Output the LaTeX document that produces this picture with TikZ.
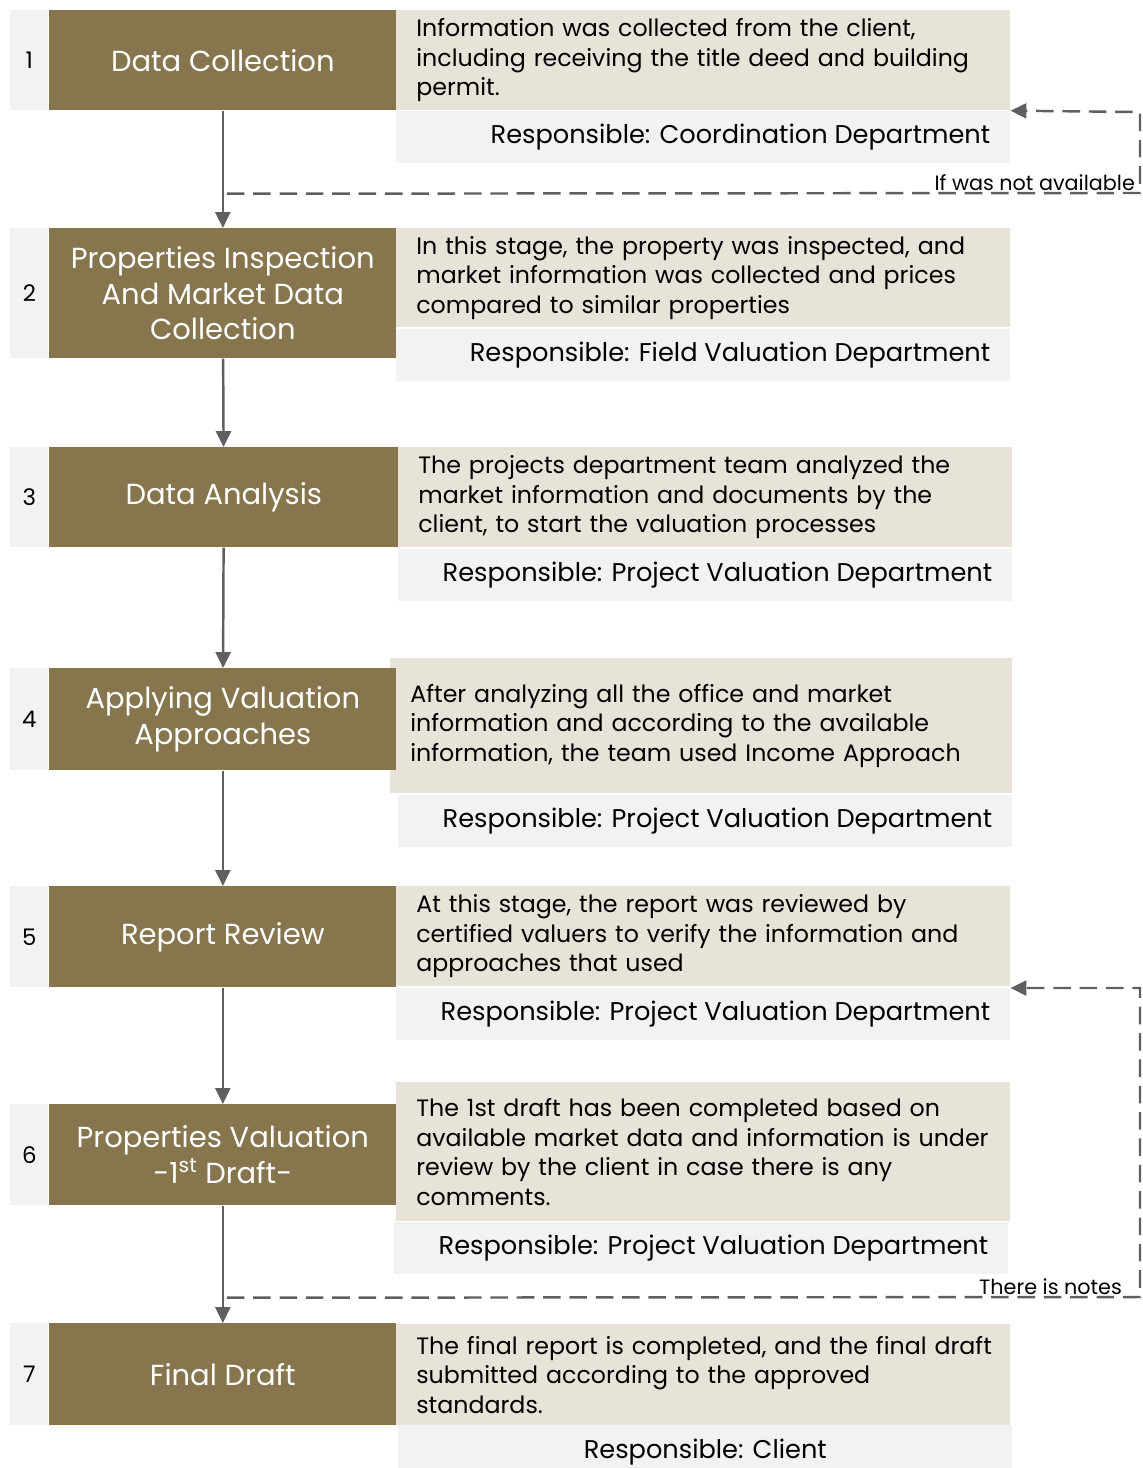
\documentclass[tikz,border=0pt]{standalone}
\usepackage{fontspec}
\setmainfont{Poppins}
\usetikzlibrary{arrows.meta, positioning, calc}
\definecolor{stagebrown}{HTML}{86754D}
\definecolor{descbeige}{HTML}{E7E3D9}
\definecolor{cellgray}{HTML}{F2F2F2}
\definecolor{linegray}{HTML}{5F5F5F}
\tikzset{
  numcell/.style   = {rectangle, fill=cellgray, anchor=north west, inner sep=0pt,
                      minimum width=0.76cm, font=\fontsize{13}{16}\selectfont},
  stagebox/.style  = {rectangle, fill=stagebrown, anchor=north west, inner sep=0pt,
                      minimum width=6.94cm, align=center, text=white,
                      font=\fontsize{16.5}{20.3}\selectfont},
  descbox/.style   = {rectangle, fill=descbeige, anchor=north west, inner xsep=0.4cm,
                      inner ysep=0pt, text width=11.48cm, align=left,
                      font=\fontsize{13.5}{16.8}\selectfont},
  respbox/.style   = {rectangle, fill=cellgray, anchor=north west, inner sep=0pt,
                      minimum width=12.28cm, minimum height=1.04cm},
  resptext/.style  = {anchor=east, inner sep=0pt, font=\fontsize{14.6}{17}\selectfont},
  flow/.style      = {draw=linegray, line width=1.4pt, -{Triangle[length=9pt,width=8.5pt]}},
  loopline/.style  = {draw=linegray, line width=1.4pt, dash pattern=on 10pt off 5pt,
                      -{Triangle[length=9pt,width=8.5pt]}},
  looplabel/.style = {anchor=south east, inner sep=1pt, font=\fontsize{11.8}{13}\selectfont}
}
\begin{document}
\begin{tikzpicture}[x=0.02cm, y=-0.02cm]
\useasboundingbox (0,0) rectangle (1143,1468);

% Step 1
\node[numcell, minimum height=2cm] at (10,10) (n1) {1};
\node[stagebox, minimum height=2cm] at (49,10) (s1) {Data Collection};
\node[descbox, minimum height=2cm] at (396,10) (d1) {Information was collected from the client,\\including receiving the title deed and building\\permit.};
\node[respbox] at (396,111) (r1) {};
\node[resptext] at ($(r1.east)+(-20,0)$) (t1) {Responsible: Coordination Department};

% Step 2
\node[numcell, minimum height=2.6cm] at (10,228) (n2) {2};
\node[stagebox, minimum height=2.6cm] at (49,228) (s2) {Properties Inspection\\And Market Data\\Collection};
\node[descbox, minimum height=1.98cm] at (396,228) (d2) {In this stage, the property was inspected, and\\market information was collected and prices\\compared to similar properties};
\node[respbox] at (396,329) (r2) {};
\node[resptext] at ($(r2.east)+(-20,0)$) (t2) {Responsible: Field Valuation Department};

% Step 3
\node[numcell, minimum height=2cm] at (10,447) (n3) {3};
\node[stagebox, minimum height=2cm, minimum width=6.98cm] at (49,447) (s3) {Data Analysis};
\node[descbox, minimum height=2cm] at (398,447) (d3) {The projects department team analyzed the\\market information and documents by the\\client, to start the valuation processes};
\node[respbox] at (398,549) (r3) {};
\node[resptext] at ($(r3.east)+(-20,0)$) (t3) {Responsible: Project Valuation Department};

% Step 4
\node[numcell, minimum height=2.04cm] at (10,668) (n4) {4};
\node[descbox, minimum height=2.7cm, text width=11.64cm] at (390,658) (d4) {After analyzing all the office and market\\information and according to the available\\information, the team used Income Approach};
\node[stagebox, minimum height=2.04cm] at (49,668) (s4) {Applying Valuation\\Approaches};
\node[respbox] at (398,795) (r4) {};
\node[resptext] at ($(r4.east)+(-20,0)$) (t4) {Responsible: Project Valuation Department};

% Step 5
\node[numcell, minimum height=2.02cm] at (10,886) (n5) {5};
\node[stagebox, minimum height=2.02cm] at (49,886) (s5) {Report Review};
\node[descbox, minimum height=2cm] at (396,886) (d5) {At this stage, the report was reviewed by\\certified valuers to verify the information and\\approaches that used};
\node[respbox] at (396,988) (r5) {};
\node[resptext] at ($(r5.east)+(-20,0)$) (t5) {Responsible: Project Valuation Department};

% Step 6
\node[numcell, minimum height=2.02cm] at (10,1104) (n6) {6};
\node[descbox, minimum height=2.78cm] at (396,1082) (d6) {The 1st draft has been completed based on\\available market data and information is under\\review by the client in case there is any\\comments.};
\node[stagebox, minimum height=2.02cm] at (49,1104) (s6) {Properties Valuation\\-1\textsuperscript{st} Draft-};
\node[respbox] at (394,1222) (r6) {};
\node[resptext] at ($(r6.east)+(-20,0)$) (t6) {Responsible: Project Valuation Department};

% Step 7
\node[numcell, minimum height=2.04cm] at (10,1323) (n7) {7};
\node[stagebox, minimum height=2.04cm] at (49,1323) (s7) {Final Draft};
\node[descbox, minimum height=2.02cm] at (396,1324) (d7) {\makebox[\linewidth][l]{The final report is completed, and the final draft}\\submitted according to the approved\\standards.};
\node[respbox, minimum height=1.06cm, minimum width=12.28cm] at (398,1425) (r7) {};
\node[resptext, anchor=center] at (r7.center) (t7) {Responsible: Client};

% Main flow
\draw[flow] (s1) -- (s2);
\draw[flow] (s2) -- (s3);
\draw[flow] (s3) -- (s4);
\draw[flow] (s4) -- (s5);
\draw[flow] (s5) -- (s6);
\draw[flow] (s6) -- (s7);

% Loops back
\coordinate (c1) at ($(s1.south)+(4,83)$);
\draw[loopline] (c1) -- (1140,193) -- (1140,112) -- (d1.south east);
\node[looplabel] at (1137,193) (l1) {If was not available};

\coordinate (c6) at ($(s6.south)+(4,92)$);
\draw[loopline] (c6) -- (1140,1297) -- (1140,988) -- (r5.north east);
\node[looplabel] at (1124,1297) (l6) {There is notes};

\end{tikzpicture}
\end{document}
